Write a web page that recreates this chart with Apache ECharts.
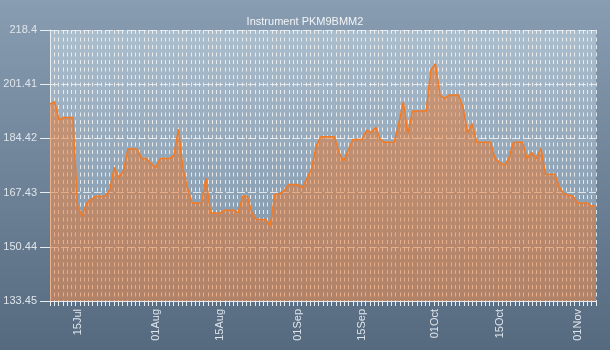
<!DOCTYPE html>
<html>
<head>
<meta charset="utf-8">
<script src="https://cdn.jsdelivr.net/npm/echarts@6/dist/echarts.min.js"></script>
<style>html,body{margin:0;padding:0;}#c{width:610px;height:350px;}</style>
</head>
<body>
<div id="c"></div>
<script>
var titleText = 'Instrument PKM9BMM2';
var startDate = '2013-07-09';
var values = [
195.2,195.9,190.2,191.0,191.0,191.0,163.4,160.1,164.2,165.3,
166.3,166.3,166.3,168.2,175.3,172.2,174.2,181.1,181.1,181.1,
178.1,178.1,176.6,175.2,178.1,178.1,178.1,179.2,187.3,174.8,
168.7,164.2,164.2,164.2,172.0,161.0,161.0,161.0,161.9,161.9,
161.9,161.1,166.3,166.3,161.1,159.0,159.0,159.0,157.1,166.9,
167.1,167.9,170.0,170.0,170.0,169.0,171.8,175.0,182.0,184.9,
184.9,184.9,184.9,180.0,177.3,180.7,184.1,184.1,184.1,187.0,
186.3,187.9,184.1,183.2,183.2,183.2,188.9,195.9,186.0,193.0,
193.0,193.0,193.0,205.9,207.8,198.0,197.0,198.0,198.0,198.0,
194.3,186.2,189.1,183.2,183.2,183.2,183.2,178.1,177.0,176.0,
178.1,183.2,183.2,183.2,178.1,180.0,178.1,181.3,173.2,173.2,
173.2,169.2,167.1,166.7,166.3,164.2,164.2,164.2,163.2,163.2
];
var yMin = 133.45, yMax = 218.4, yStep = 16.99;
var tickLabelDays = ['01', '15'];
var monthNames = ['Jan','Feb','Mar','Apr','May','Jun','Jul','Aug','Sep','Oct','Nov','Dec'];
var minorTickCount = 128;

var dates = [];
(function(){
  var d = new Date(startDate + 'T00:00:00Z');
  for (var i = 0; i < values.length; i++) {
    var dd = new Date(d.getTime() + i * 86400000);
    var day = ('0' + dd.getUTCDate()).slice(-2);
    dates.push(day + monthNames[dd.getUTCMonth()]);
  }
})();

var chart = echarts.init(document.getElementById('c'));
var labelColor = '#dfe5ec';
var font = 'Liberation Sans';
chart.setOption({
  animation: false,
  backgroundColor: {type:'linear',x:0,y:0,x2:0,y2:1,colorStops:[{offset:0,color:'#889db1'},{offset:1,color:'#556a7e'}]},
  title: {text: titleText, left: 'center', top: 11, textStyle:{color:'#f2f4f6', fontSize:11, fontWeight:'normal', fontFamily: font}},
  grid: {left:50, right:14, top:30, bottom:49, show:true, borderWidth:0,
    backgroundColor:{type:'linear',x:0,y:0,x2:0,y2:1,colorStops:[{offset:0,color:'#abbece'},{offset:1,color:'#7a90a4'}]}},
  xAxis: [{
    type:'category', data: dates, boundaryGap:false,
    axisLine:{show:true, lineStyle:{color:'#e8edf2', width:1}},
    axisTick:{show:false},
    splitLine:{show:false},
    axisLabel:{color:labelColor, fontSize:11, fontFamily:font, rotate:90, margin:8,
      interval:function(i, v){ return tickLabelDays.indexOf(v.slice(0,2)) >= 0; }}
  },{
    type:'value', min:0, max:minorTickCount, interval:1, position:'bottom',
    axisLine:{show:false}, axisLabel:{show:false},
    axisTick:{show:true, length:5, lineStyle:{color:'#e8edf2'}},
    splitLine:{show:true, lineStyle:{color:'rgba(245,245,245,0.85)', type:[4,3.5], width:1}}
  }],
  yAxis: {
    type:'value', min:yMin, max:yMax, interval:yStep,
    axisLine:{show:true, lineStyle:{color:'#e8edf2'}},
    axisTick:{show:true, length:10, lineStyle:{color:'#e8edf2'}},
    splitLine:{show:true, lineStyle:{color:'rgba(245,245,245,0.8)', type:[8,3], width:1}},
    axisLabel:{color:labelColor, fontSize:11, fontFamily:font, margin:13,
      formatter:function(v){ return String(+v.toFixed(2)); }}
  },
  series: [{
    type:'line', data: values, xAxisIndex:0, symbol:'none',
    lineStyle:{color:'#f47a22', width:1.5},
    areaStyle:{color:'rgba(234,116,40,0.7)'}
  }]
});
</script>
</body>
</html>
